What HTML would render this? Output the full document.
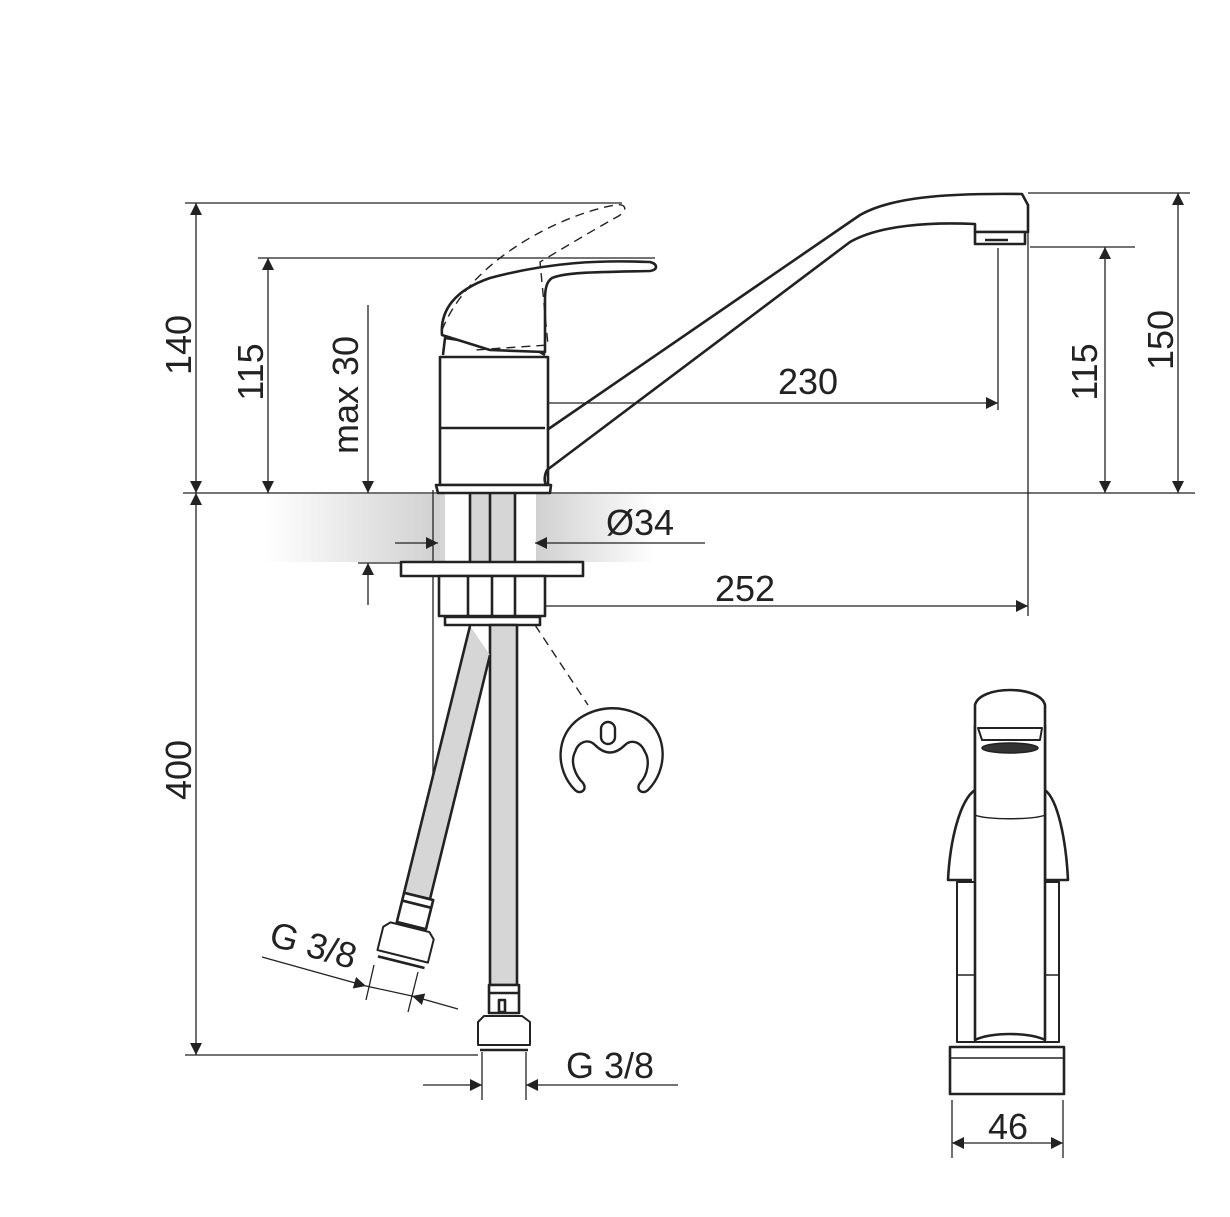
<!DOCTYPE html>
<html><head><meta charset="utf-8"><style>
html,body{margin:0;padding:0;background:#fff}
svg{display:block}
text{font-family:"Liberation Sans",sans-serif;fill:#222}
</style></head><body>
<svg width="1230" height="1217" viewBox="0 0 1230 1217" xmlns="http://www.w3.org/2000/svg">
<defs>
<linearGradient id="gl" x1="0" x2="1" y1="0" y2="0">
<stop offset="0" stop-color="#fff"/><stop offset="1" stop-color="#d0d0d0"/></linearGradient>
<linearGradient id="gr" x1="0" x2="1" y1="0" y2="0">
<stop offset="0" stop-color="#d0d0d0"/><stop offset="1" stop-color="#fff"/></linearGradient>
<marker id="a" viewBox="0 0 10 10" refX="10" refY="5" markerWidth="22" markerHeight="12" markerUnits="userSpaceOnUse" orient="auto-start-reverse"><path d="M0,0L10,5L0,10z" fill="#222"/></marker>
</defs>
<rect x="265" y="494" width="175" height="68" fill="url(#gl)"/>
<rect x="440" y="494" width="100" height="68" fill="#d6d6d6"/>
<rect x="445" y="494" width="25" height="68" fill="#fff"/>
<rect x="516" y="494" width="20" height="68" fill="#fff"/>
<rect x="536" y="494" width="120" height="68" fill="url(#gr)"/>
<g stroke="#222" fill="none" stroke-width="1.3">
<line x1="183" y1="493" x2="1195" y2="493"/>
<line x1="185" y1="203" x2="622" y2="203"/>
<line x1="258" y1="258" x2="655" y2="258"/>
<line x1="185" y1="1055" x2="478" y2="1055"/>
<line x1="1028" y1="193" x2="1190" y2="193"/>
<line x1="1030" y1="247" x2="1135" y2="247"/>
<line x1="1028" y1="230" x2="1028" y2="616"/>
<line x1="998" y1="248" x2="998" y2="410"/>
<line x1="433" y1="490" x2="433" y2="780"/>
<line x1="196" y1="203" x2="196" y2="493" marker-start="url(#a)" marker-end="url(#a)"/>
<line x1="196" y1="493" x2="196" y2="1055" marker-start="url(#a)" marker-end="url(#a)"/>
<line x1="268" y1="258" x2="268" y2="493" marker-start="url(#a)" marker-end="url(#a)"/>
<line x1="368" y1="305" x2="368" y2="493" marker-end="url(#a)"/>
<line x1="368" y1="605" x2="368" y2="563" marker-end="url(#a)"/>
<line x1="358" y1="563" x2="400" y2="563"/>
<line x1="1105" y1="247" x2="1105" y2="493" marker-start="url(#a)" marker-end="url(#a)"/>
<line x1="1178" y1="193" x2="1178" y2="493" marker-start="url(#a)" marker-end="url(#a)"/>
<line x1="493" y1="403" x2="998" y2="403" marker-end="url(#a)"/>
<line x1="493" y1="393" x2="493" y2="413"/>
<line x1="440" y1="606" x2="1028" y2="606" marker-start="url(#a)" marker-end="url(#a)"/>
<line x1="395" y1="543" x2="438" y2="543" marker-end="url(#a)"/>
<line x1="705" y1="543" x2="535" y2="543" marker-end="url(#a)"/>
<line x1="423" y1="1085" x2="482" y2="1085" marker-end="url(#a)"/>
<line x1="678" y1="1085" x2="526" y2="1085" marker-end="url(#a)"/>
<line x1="482" y1="1052" x2="482" y2="1100"/><line x1="526" y1="1052" x2="526" y2="1100"/>
<line x1="262" y1="957" x2="366" y2="986" marker-end="url(#a)"/>
<line x1="458" y1="1009" x2="412" y2="996" marker-end="url(#a)"/>
<line x1="366" y1="986" x2="412" y2="996"/>
<line x1="374" y1="965" x2="366" y2="1000"/><line x1="418" y1="972" x2="408" y2="1012"/>
<line x1="952" y1="1143" x2="1063" y2="1143" marker-start="url(#a)" marker-end="url(#a)"/>
<line x1="952" y1="1100" x2="952" y2="1158"/><line x1="1063" y1="1100" x2="1063" y2="1158"/>
</g>
<g stroke="#222" fill="none" stroke-width="2.6" stroke-linejoin="round">
<rect x="440" y="357" width="108" height="128" fill="#fff"/>
<line x1="440" y1="428" x2="545" y2="428"/>
<path d="M436,485 L551,485 L550,493 L438,493 Z" fill="#fff"/>
<path d="M443,355 L445,338 L540,352 L545,355" />
<path d="M442,335 C440,310 455,290 490,278 C550,262 600,260 650,262 C658,264 658,270 650,271 C600,272 565,272 552,278 C546,282 545,290 545,300 L545,352 L490,350 L442,335 Z" fill="#fff"/>
<path d="M547,430 L860,215 C890,198 940,193 1022,194 L1028,205 L1028,232 L975,232 L975,224 C930,222 880,225 850,242 L547,470 C543,478 545,485 547,485" fill="none"/>
<rect x="975" y="232" width="50" height="12" fill="#fff"/>
<line x1="985" y1="240" x2="1008" y2="240"/>
<line x1="470" y1="494" x2="470" y2="562"/><line x1="490" y1="494" x2="490" y2="562"/><line x1="515" y1="494" x2="515" y2="562"/>
<rect x="401" y="562" width="182" height="14" fill="#fff"/>
<rect x="439" y="576" width="106" height="40" fill="#fff"/>
<line x1="468" y1="576" x2="468" y2="616"/><line x1="492" y1="576" x2="492" y2="616"/><line x1="515" y1="576" x2="515" y2="616"/>
<rect x="445" y="617" width="95" height="8" fill="#fff"/>
<path d="M490,625 L490,985 L517,985 L517,625 Z" fill="#d6d6d6"/>
<path d="M470,626 L404,893 L430,899 L490,655" fill="#d6d6d6"/>
<rect x="489" y="985" width="30" height="28" fill="#fff"/>
<line x1="489" y1="993" x2="519" y2="993"/>
<rect x="499" y="1000" width="6" height="12"/>
<path d="M478,1022 L484,1016 L522,1016 L530,1022 L530,1045 L478,1045 Z" fill="#fff" stroke-width="2"/>
<line x1="480" y1="1050" x2="528" y2="1050"/>
<g transform="rotate(14 408 935)">
<rect x="394" y="895" width="30" height="30" fill="#fff"/>
<line x1="394" y1="903" x2="424" y2="903"/>
<path d="M382,933 L388,927 L428,927 L434,933 L434,957 L382,957 Z" fill="#fff" stroke-width="2"/>
<line x1="384" y1="963" x2="432" y2="963"/>
</g>
<path d="M575,790 C555,770 555,735 580,718 C600,705 625,705 645,718 C668,735 668,770 648,790 C643,795 635,790 640,783 C648,775 650,760 645,752 C640,740 630,740 625,745 C615,755 605,755 595,745 C588,738 578,742 575,752 C570,762 575,775 583,783 C588,790 580,795 575,790 Z" stroke-width="2.4"/>
<rect x="601" y="722" width="14" height="22" rx="7" stroke-width="2.4"/>
<path d="M975,905 L975,705 C980,685 1040,685 1045,705 L1045,905" fill="#fff"/>
<path d="M975,790 C960,800 950,840 948,880 L972,880 M1045,790 C1058,800 1066,840 1068,880 L1045,880"/>
<rect x="957" y="882" width="102" height="160" fill="#fff" stroke-width="2"/>
<line x1="957" y1="975" x2="1059" y2="975" stroke-width="1.5"/>
<path d="M975,725 L975,1040 C990,1032 1030,1032 1045,1040 L1045,725" fill="#fff"/>
<path d="M978,728 L1042,728 L1040,740 L982,740 Z" fill="#fff" stroke-width="2"/>
<ellipse cx="1010" cy="748" rx="28" ry="5" fill="#333" stroke-width="1.5"/>
<path d="M975,815 C985,820 1035,820 1045,815" stroke-width="1.5"/>
<rect x="950" y="1047" width="114" height="47" fill="#fff"/>
<line x1="950" y1="1058" x2="1064" y2="1058" stroke-width="1.5"/>
</g>
<g stroke="#222" fill="none" stroke-width="1.4" stroke-dasharray="9,6">
<path d="M442,330 C470,260 560,215 615,205 C628,203 628,212 615,218 C590,232 560,250 540,262 L548,345 L475,350"/>
<line x1="535" y1="625" x2="588" y2="705"/>
</g>
<g font-size="36">
<text transform="translate(191,345) rotate(-90)" text-anchor="middle">140</text>
<text transform="translate(263,372) rotate(-90)" text-anchor="middle">115</text>
<text transform="translate(358,395) rotate(-90)" text-anchor="middle">max 30</text>
<text transform="translate(191,770) rotate(-90)" text-anchor="middle">400</text>
<text transform="translate(1097,372) rotate(-90)" text-anchor="middle">115</text>
<text transform="translate(1173,340) rotate(-90)" text-anchor="middle">150</text>
<text x="808" y="394" text-anchor="middle">230</text>
<text x="745" y="601" text-anchor="middle">252</text>
<text x="640" y="535" text-anchor="middle">Ø34</text>
<text x="610" y="1078" text-anchor="middle">G 3/8</text>
<text transform="translate(310,957) rotate(16)" text-anchor="middle">G 3/8</text>
<text x="1008" y="1139" text-anchor="middle">46</text>
</g>
</svg>
</body></html>
